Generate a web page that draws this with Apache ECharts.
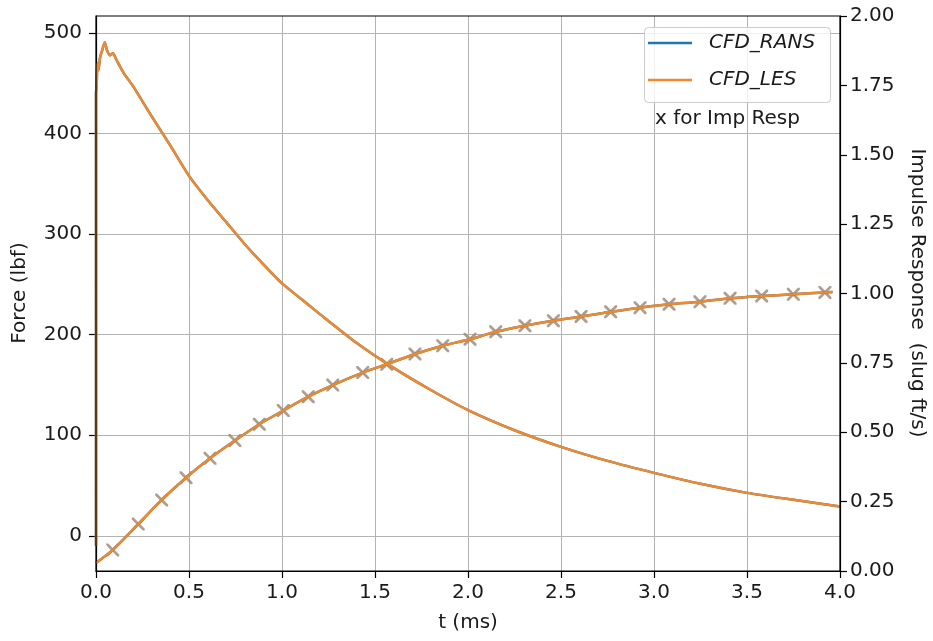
<!DOCTYPE html>
<html>
<head>
<meta charset="utf-8">
<script src="https://cdn.jsdelivr.net/npm/echarts@6/dist/echarts.min.js"></script>
<style>html,body{margin:0;padding:0;background:#fff;}#c{width:933px;height:641px;}</style>
</head>
<body>
<div id="c"></div>
<script>
// Force curve (t in ms, force in lbf)
var forceT = [0, 0, 0.004, 0.007, 0.013, 0.022, 0.035, 0.047, 0.059, 0.075, 0.091, 0.111, 0.15, 0.2, 0.3, 0.4, 0.5, 0.6, 0.7, 0.8, 0.9, 1.0, 1.1, 1.2, 1.4, 1.6, 1.8, 2.0, 2.25, 2.5, 2.75, 3.0, 3.25, 3.5, 3.75, 4.0];
var forceV = [-10, 440, 450, 470, 463, 476, 484, 491, 483, 478, 480, 473, 460, 447, 417, 388, 358, 334, 312, 290, 270, 251, 236, 221, 192, 167, 145, 125, 105, 88.5, 74.5, 62.6, 51.7, 42.7, 35.8, 29.1];
// Impulse response line (t in ms, slug ft/s)
var impT = [0, 0.09, 0.227, 0.353, 0.484, 0.613, 0.747, 0.878, 1.007, 1.141, 1.273, 1.434, 1.563, 1.715, 1.864, 2.011, 2.149, 2.306, 2.459, 2.608, 2.767, 2.925, 3.081, 3.247, 3.409, 3.579, 3.749, 3.919, 3.96];
var impV = [0.029, 0.076, 0.169, 0.256, 0.336, 0.406, 0.470, 0.529, 0.578, 0.628, 0.670, 0.715, 0.745, 0.782, 0.812, 0.835, 0.862, 0.884, 0.902, 0.917, 0.934, 0.949, 0.961, 0.970, 0.983, 0.991, 0.997, 1.004, 1.005];
// "x" markers on the impulse response
var markT = [0.09, 0.227, 0.353, 0.484, 0.613, 0.747, 0.878, 1.007, 1.141, 1.273, 1.434, 1.563, 1.715, 1.864, 2.011, 2.149, 2.306, 2.459, 2.608, 2.767, 2.925, 3.081, 3.247, 3.409, 3.579, 3.749, 3.919];
var markV = [0.076, 0.169, 0.256, 0.336, 0.406, 0.470, 0.529, 0.578, 0.628, 0.670, 0.715, 0.745, 0.782, 0.812, 0.835, 0.862, 0.884, 0.902, 0.917, 0.934, 0.949, 0.961, 0.970, 0.983, 0.991, 0.997, 1.004];
var seriesNames = ['CFD_RANS', 'CFD_LES'];
var forceTicks = [0, 100, 200, 300, 400, 500];

function pairs(a, b) { return a.map(function (v, i) { return [v, b[i]]; }); }
var forceData = pairs(forceT, forceV);
var impData = pairs(impT, impV);
var markData = pairs(markT, markV);

var FONT = 'DejaVu Sans';
var FS = 20;
var TXT = '#1a1a1a';
var BLUE = '#1f77b4', ORANGE = '#f0892c';
var xPath = 'path://M0,0L3,0L10,7L17,0L20,0L20,3L13,10L20,17L20,20L17,20L10,13L3,20L0,20L0,17L7,10L0,3Z';

var chart = echarts.init(document.getElementById('c'), null, {renderer: 'canvas'});
chart.setOption({
  animation: false,
  backgroundColor: '#fff',
  textStyle: {fontFamily: FONT},
  grid: {left: 96, right: 93, top: 16, bottom: 70, show: false},
  graphic: [
    {type: 'rect', shape: {x: 96, y: 16, width: 744, height: 555}, style: {fill: 'none', stroke: '#000', lineWidth: 1.2}, z: 90, silent: true},
    {type: 'rect', shape: {x: 644.5, y: 27.5, width: 186, height: 75, r: 4}, style: {fill: 'rgba(255,255,255,0.8)', stroke: '#cccccc', lineWidth: 1}, z: 100},
    {type: 'line', shape: {x1: 648, y1: 43, x2: 692, y2: 43}, style: {stroke: BLUE, lineWidth: 2.5}, z: 101},
    {type: 'line', shape: {x1: 648, y1: 80, x2: 692, y2: 80}, style: {stroke: ORANGE, lineWidth: 2.5}, z: 101},
    {type: 'text', x: 709, y: 43, style: {text: seriesNames[0], fontFamily: FONT, fontSize: FS, fontStyle: 'italic', fill: TXT, verticalAlign: 'middle'}, z: 101},
    {type: 'text', x: 709, y: 80, style: {text: seriesNames[1], fontFamily: FONT, fontSize: FS, fontStyle: 'italic', fill: TXT, verticalAlign: 'middle'}, z: 101},
    {type: 'text', x: 655, y: 119, style: {text: 'x for Imp Resp', fontFamily: FONT, fontSize: FS, fill: TXT, verticalAlign: 'middle'}, z: 101},
    {type: 'text', x: 917, y: 293, rotation: -Math.PI / 2, style: {text: 'Impulse Response  (slug ft/s)', fontFamily: FONT, fontSize: FS, fill: TXT, align: 'center', verticalAlign: 'middle'}},
    {type: 'text', x: 20, y: 293, rotation: Math.PI / 2, style: {text: 'Force (lbf)', fontFamily: FONT, fontSize: FS, fill: TXT, align: 'center', verticalAlign: 'middle'}}
  ],
  xAxis: {
    type: 'value', min: 0, max: 4, interval: 0.5,
    name: 't (ms)', nameLocation: 'middle', nameGap: 42,
    nameTextStyle: {fontFamily: FONT, fontSize: FS, color: TXT},
    axisLine: {show: true, onZero: false, lineStyle: {color: '#000', width: 1.2}},
    axisTick: {show: true, inside: false, length: 7, lineStyle: {color: '#000', width: 1.2}},
    axisLabel: {fontFamily: FONT, fontSize: FS, color: TXT, margin: 12, formatter: function (v) { return v.toFixed(1); }},
    splitLine: {show: true, lineStyle: {color: '#b3b3b3', width: 1}}
  },
  yAxis: [
    {
      type: 'value', min: -35, max: 517, splitNumber: 5,
      axisLine: {show: true, onZero: false, lineStyle: {color: '#000', width: 1.2}},
      axisTick: {show: true, inside: false, length: 7, lineStyle: {color: '#000', width: 1.2}, customValues: forceTicks},
      axisLabel: {fontFamily: FONT, fontSize: FS, color: TXT, margin: 14, customValues: forceTicks},
      splitLine: {show: true, lineStyle: {color: '#b3b3b3', width: 1}}
    },
    {
      type: 'value', min: 0, max: 2, interval: 0.25, position: 'right',
      axisLine: {show: true, onZero: false, lineStyle: {color: '#000', width: 1.2}},
      axisTick: {show: true, inside: false, length: 7, lineStyle: {color: '#000', width: 1.2}},
      axisLabel: {fontFamily: FONT, fontSize: FS, color: TXT, margin: 10, formatter: function (v) { return v.toFixed(2); }},
      splitLine: {show: false}
    }
  ],
  series: [
    {name: 'CFD_RANS', type: 'line', yAxisIndex: 0, data: forceData, symbol: 'none', smooth: 0.2, lineStyle: {color: BLUE, width: 2.5}, itemStyle: {color: BLUE}},
    {name: 'CFD_RANS', type: 'line', yAxisIndex: 1, data: impData, symbol: 'none', smooth: 0.3, lineStyle: {color: BLUE, width: 2.5}, itemStyle: {color: BLUE}},
    {name: 'markers', type: 'scatter', yAxisIndex: 1, data: markData, symbol: xPath, symbolSize: 13, itemStyle: {color: '#9b8572'}},
    {name: 'CFD_LES', type: 'line', yAxisIndex: 0, data: forceData, symbol: 'none', smooth: 0.2, lineStyle: {color: ORANGE, width: 2.5}, itemStyle: {color: ORANGE}},
    {name: 'CFD_LES', type: 'line', yAxisIndex: 1, data: impData, symbol: 'none', smooth: 0.3, lineStyle: {color: ORANGE, width: 2.5}, itemStyle: {color: ORANGE}}
  ]
});
</script>
</body>
</html>
